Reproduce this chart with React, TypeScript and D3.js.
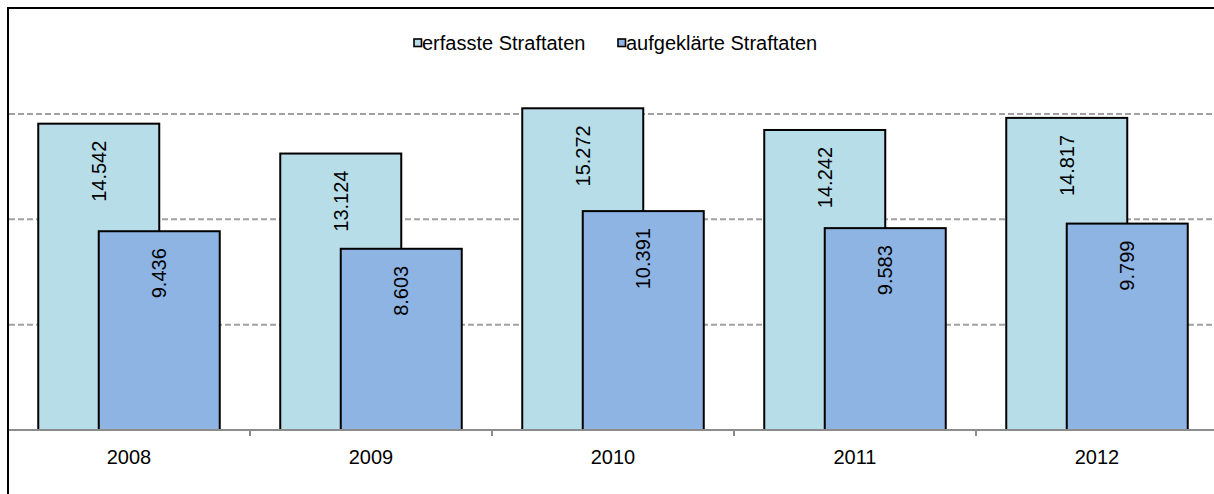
import React from "react";
import * as d3 from "d3";

const years = ["2008", "2009", "2010", "2011", "2012"];
const erfasst = [14542, 13124, 15272, 14242, 14817];
const aufgeklaert = [9436, 8603, 10391, 9583, 9799];
const gridValues = [5000, 10000, 15000];
const seriesNames = ["erfasste Straftaten", "aufgeklärte Straftaten"];
const seriesColors = ["#B7DEE8", "#8EB4E3"];

const W = 1214;
const H = 494;
const FONT = "'Liberation Sans', Arial, sans-serif";

export default function App() {
  const plotLeft = 8;
  const plotRight = 1218;
  const x = d3.scaleBand<string>().domain(years).range([plotLeft, plotRight]).padding(0);
  const y = d3.scaleLinear().domain([0, 20000]).range([430, 8.7]);
  const bw = x.bandwidth() / 2; // bar width (gap width 50%, overlap 50%)
  const groupW = bw * 1.5;
  const fmt = (v: number) => d3.format(",")(v).replace(/,/g, ".");
  const series = [erfasst, aufgeklaert];

  return (
    <svg
      width={W}
      height={H}
      style={{ position: "absolute", left: 0, top: 0, background: "#fff" }}
      fontFamily={FONT}
    >
      <rect x={0} y={0} width={W} height={H} fill="#fff" />
      {/* gridlines */}
      {gridValues.map((g) => (
        <line
          key={g}
          x1={plotLeft + 1}
          x2={plotRight}
          y1={y(g)}
          y2={y(g)}
          stroke="#A0A0A0"
          strokeWidth={2}
          strokeDasharray="6,3"
        />
      ))}
      {/* bars */}
      {series.map((vals, si) =>
        years.map((yr, i) => {
          const cx = (x(yr) as number) + x.bandwidth() / 2;
          const bx = cx - groupW / 2 + si * (bw / 2);
          return (
            <rect
              key={`${si}-${yr}`}
              x={bx}
              y={y(vals[i])}
              width={bw}
              height={y(0) - y(vals[i])}
              fill={seriesColors[si]}
              stroke="#000"
              strokeWidth={2}
            />
          );
        })
      )}
      {/* labels */}
      {series.map((vals, si) =>
        years.map((yr, i) => {
          const cx = (x(yr) as number) + x.bandwidth() / 2;
          const bx = cx - groupW / 2 + si * (bw / 2);
          const lx = bx + bw / 2;
          const ly = y(vals[i]) + 17;
          return (
            <text
              key={`l${si}-${yr}`}
              transform={`translate(${lx},${ly}) rotate(-90)`}
              textAnchor="end"
              dominantBaseline="central"
              fontSize={20}
              fill="#000"
            >
              {fmt(vals[i])}
            </text>
          );
        })
      )}
      {/* axis */}
      <line x1={plotLeft} x2={plotRight} y1={y(0)} y2={y(0)} stroke="#8C8C8C" strokeWidth={2} />
      {years.slice(1).map((yr) => (
        <line
          key={`t${yr}`}
          x1={x(yr) as number}
          x2={x(yr) as number}
          y1={y(0)}
          y2={y(0) + 6}
          stroke="#8C8C8C"
          strokeWidth={2}
        />
      ))}
      {years.map((yr) => (
        <text
          key={`x${yr}`}
          x={(x(yr) as number) + x.bandwidth() / 2}
          y={464}
          textAnchor="middle"
          fontSize={20}
          fill="#000"
        >
          {yr}
        </text>
      ))}
      {/* legend */}
      {seriesNames.map((n, i) => {
        const lx = [414, 618][i];
        return (
          <g key={n}>
            <rect x={lx} y={39} width={7.5} height={7.5} fill={seriesColors[i]} stroke="#000" strokeWidth={1.6} />
            <text x={lx + 8} y={49.5} fontSize={20} fill="#000">
              {n}
            </text>
          </g>
        );
      })}
      {/* outer border */}
      <rect x={8} y={8} width={W + 20} height={H + 20} fill="none" stroke="#000" strokeWidth={2} />
    </svg>
  );
}
